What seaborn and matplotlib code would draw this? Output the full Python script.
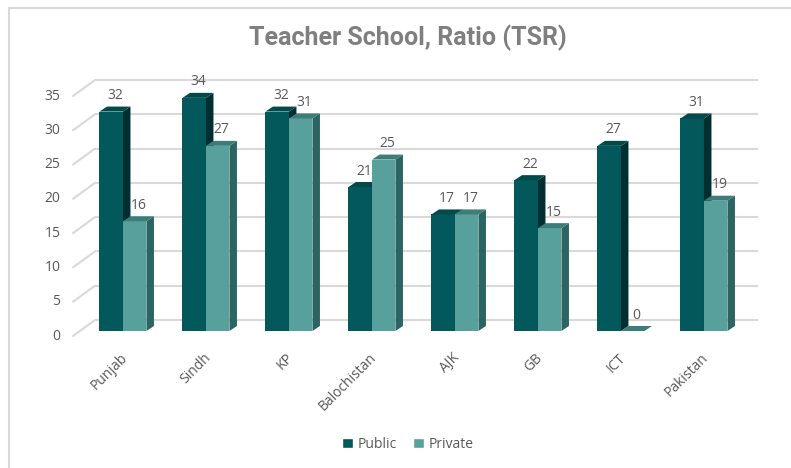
import numpy as np
import pandas as pd
import seaborn as sns
import matplotlib.pyplot as plt
from matplotlib.patches import Polygon, Rectangle
from matplotlib.transforms import ScaledTranslation

# data
regions = ['Punjab', 'Sindh', 'KP', 'Balochistan', 'AJK', 'GB', 'ICT', 'Pakistan']
public = [32, 34, 32, 21, 17, 22, 27, 31]
private = [16, 27, 31, 25, 17, 15, 0, 19]
yticks = [0, 5, 10, 15, 20, 25, 30, 35]

df = pd.DataFrame({'Region': regions * 2,
                   'TSR': public + private,
                   'Sector': ['Public'] * len(regions) + ['Private'] * len(regions)})

sns.set_theme(style='white')
plt.rcParams['font.family'] = ['Open Sans', 'DejaVu Sans']

W, H = 791, 468
fig = plt.figure(figsize=(W / 100, H / 100), dpi=100)
ax = fig.add_axes([73 / W, 137 / H, 663 / W, 240 / H])

front = {'Public': '#02585a', 'Private': '#58a09c'}
side = {'Public': '#012f31', 'Private': '#2b6563'}
topc = {'Public': '#01494b', 'Private': '#3d7d79'}
grid_c = '#d9d9d9'
text_c = '#595959'

sns.barplot(data=df, x='Region', y='TSR', hue='Sector', palette=front,
            width=0.566, saturation=1, errorbar=None, legend=False, ax=ax)

ax.set_xlim(-0.602, 7.386)
ax.set_ylim(0, 35)
for s in ax.spines.values():
    s.set_visible(False)

# pixel -> data helpers
px_x = (ax.get_xlim()[1] - ax.get_xlim()[0]) / 663
px_y = 35 / 240

# back wall gridlines + side wall slants
fdx, fdy = 22 * px_x, 11 * px_y
x0, x1 = ax.get_xlim()
for v in yticks:
    ax.plot([x0 + fdx, x1 + fdx], [v + fdy, v + fdy], color=grid_c, lw=1.5,
            zorder=1, clip_on=False, solid_capstyle='butt')
    ax.plot([x0, x0 + fdx], [v - 5 * px_y, v + fdy], color=grid_c, lw=1.5,
            zorder=1, clip_on=False)

# 3d faces on the bars
bdx, bdy = 7.5 * px_x, 5 * px_y
n = len(regions)
for i, p in enumerate(list(ax.patches)):
    sec = 'Public' if i < n else 'Private'
    z = 3 if sec == 'Public' else 4
    p.set_zorder(z)
    p.set_edgecolor('none')
    bx, bw, bh = p.get_x(), p.get_width(), p.get_height()
    r = bx + bw
    ax.add_patch(Polygon([(r, 0), (r, bh), (r + bdx, bh + bdy), (r + bdx, bdy)],
                         closed=True, fc=side[sec], ec='none', zorder=z + 0.1, clip_on=False))
    ax.add_patch(Polygon([(bx, bh), (r, bh), (r + bdx, bh + bdy), (bx + bdx, bh + bdy)],
                         closed=True, fc=topc[sec], ec='none', zorder=z + 0.1, clip_on=False))
    ax.annotate(f'{bh:.0f}', (bx + bw / 2 + bdx / 2, bh), xytext=(0, 11.5),
                textcoords='offset points', ha='center', va='center',
                fontsize=10, color=text_c, zorder=6, annotation_clip=False)

# axes text
ax.set_yticks(yticks)
ax.tick_params(axis='y', length=0, pad=9, labelsize=10, labelcolor=text_c)
for lab in ax.get_yticklabels():
    lab.set_transform(lab.get_transform() + ScaledTranslation(0, -3 / 100, fig.dpi_scale_trans))
ax.tick_params(axis='x', length=0, pad=14, labelsize=10, labelcolor=text_c)
for lab in ax.get_xticklabels():
    lab.set_rotation(45)
    lab.set_ha('right')
    lab.set_rotation_mode('anchor')
    lab.set_transform(lab.get_transform() + ScaledTranslation(-3 / 100, 0, fig.dpi_scale_trans))
ax.set_xlabel('')
ax.set_ylabel('')

# legend
handles = [Rectangle((0, 0), 1, 1, fc=front['Public']), Rectangle((0, 0), 1, 1, fc=front['Private'])]
fig.legend(handles, ['Public', 'Private'], loc='center', bbox_to_anchor=(408 / W, 1 - 444 / H),
           ncol=2, frameon=False, fontsize=10, labelcolor=text_c, handlelength=0.75,
           handleheight=0.75, handletextpad=0.35, columnspacing=1.2)

fig.text(408 / W, 1 - 38 / H, 'Teacher School, Ratio (TSR)', ha='center', va='center',
         fontsize=18, fontweight='bold', color='#7f7f7f', family=['Roboto', 'DejaVu Sans'])

# chart border
fig.add_artist(Rectangle((9 / W, -0.1), 1.2, 1 - 8 / H + 0.1, transform=fig.transFigure,
                         fill=False, ec=grid_c, lw=1.5))

fig.savefig('out.png', dpi=100)
